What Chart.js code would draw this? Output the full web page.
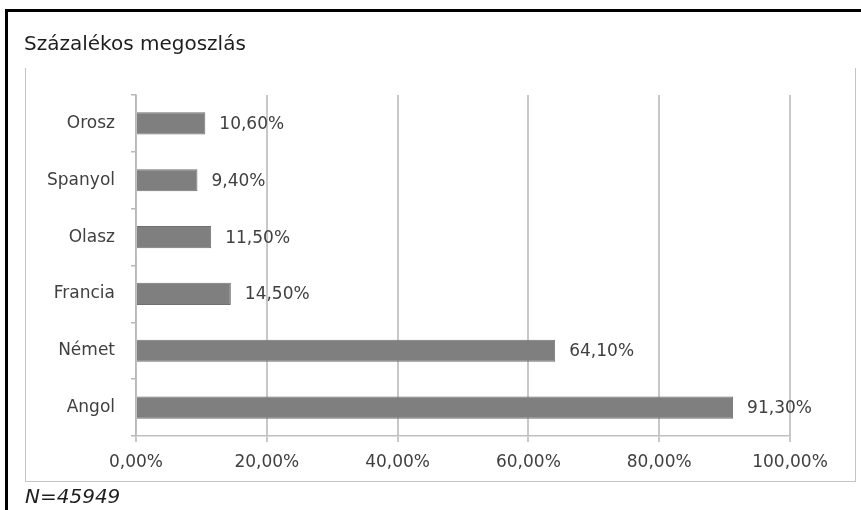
<!DOCTYPE html>
<html lang="hu">
<head>
<meta charset="utf-8">
<title>Százalékos megoszlás</title>
<script src="https://cdn.jsdelivr.net/npm/chart.js@4.4.1/dist/chart.umd.min.js"></script>
<style>
  html, body { margin: 0; padding: 0; background: #fff; }
  #page { position: relative; width: 861px; height: 510px; overflow: hidden; }
  #chart { position: absolute; left: 0; top: 0; }
  .frame-top { position: absolute; left: 5px; top: 9px; width: 856px; height: 3px; background: #000; }
  .frame-left { position: absolute; left: 5px; top: 9px; width: 3px; height: 501px; background: #000; }
  .panel { position: absolute; left: 25px; top: 68px; width: 831px; height: 414px;
           border: 1px solid #c4c4c4; border-top: none; box-sizing: border-box; }
  .title { position: absolute; left: 24px; top: 31px; font: 20px "DejaVu Sans", sans-serif; color: #1e1e1e; white-space: nowrap; }
  .note { position: absolute; left: 25px; top: 484px; font: italic 20px "DejaVu Sans", sans-serif; color: #1e1e1e; white-space: nowrap; }
</style>
</head>
<body>
<div id="page">
  <div class="panel"></div>
  <canvas id="chart" width="861" height="510"></canvas>
  <div class="frame-top"></div>
  <div class="frame-left"></div>
  <div class="title">Százalékos megoszlás</div>
  <div class="note">N=45949</div>
</div>
<script>
// Languages, top to bottom
const languages = ['Orosz', 'Spanyol', 'Olasz', 'Francia', 'Német', 'Angol'];
// Share of respondents speaking each language (%)
const shares = [10.6, 9.4, 11.5, 14.5, 64.1, 91.3];
// Value axis ticks (%)
const axisTicks = [0, 20, 40, 60, 80, 100];

const huPercent = v => v.toFixed(2).replace('.', ',') + '%';
const labelFont = { family: 'DejaVu Sans', size: 17 };
const textColor = '#404040';

// Writes each bar's value just past its end
const valueLabels = {
  id: 'valueLabels',
  afterDatasetsDraw(chart) {
    const ctx = chart.ctx;
    const meta = chart.getDatasetMeta(0);
    ctx.save();
    ctx.font = `${labelFont.size}px ${labelFont.family}`;
    ctx.fillStyle = textColor;
    ctx.textAlign = 'left';
    ctx.textBaseline = 'middle';
    meta.data.forEach((bar, i) => {
      ctx.fillText(huPercent(chart.data.datasets[0].data[i]), bar.x + 14, bar.y + 1);
    });
    ctx.restore();
  }
};

new Chart(document.getElementById('chart'), {
  type: 'bar',
  data: {
    labels: languages,
    datasets: [{
      data: shares,
      backgroundColor: '#7f7f7f',
      borderColor: '#707070',
      borderWidth: 1,
      categoryPercentage: 1,
      barPercentage: 0.39
    }]
  },
  options: {
    indexAxis: 'y',
    responsive: false,
    animation: false,
    devicePixelRatio: 1,
    layout: { padding: { left: 25, right: 71, top: 95, bottom: 34 } },
    plugins: { legend: { display: false }, tooltip: { enabled: false } },
    scales: {
      x: {
        min: 0,
        max: 100,
        afterBuildTicks(scale) { scale.ticks = axisTicks.map(v => ({ value: v })); },
        afterFit(scale) { scale.height = 40; },
        grid: { color: '#c8c8c8', lineWidth: 2, tickLength: 6 },
        border: { color: '#c0c0c0', width: 1.5 },
        ticks: {
          padding: 10,
          color: textColor,
          font: labelFont,
          maxRotation: 0,
          callback: v => huPercent(v)
        }
      },
      y: {
        afterFit(scale) { scale.width = 111; },
        grid: { drawOnChartArea: false, color: '#b8b8b8', lineWidth: 1.5, tickLength: 5 },
        border: { color: '#b8b8b8', width: 1.5 },
        ticks: { padding: 16, color: textColor, font: labelFont }
      }
    }
  },
  plugins: [valueLabels]
});
</script>
</body>
</html>
